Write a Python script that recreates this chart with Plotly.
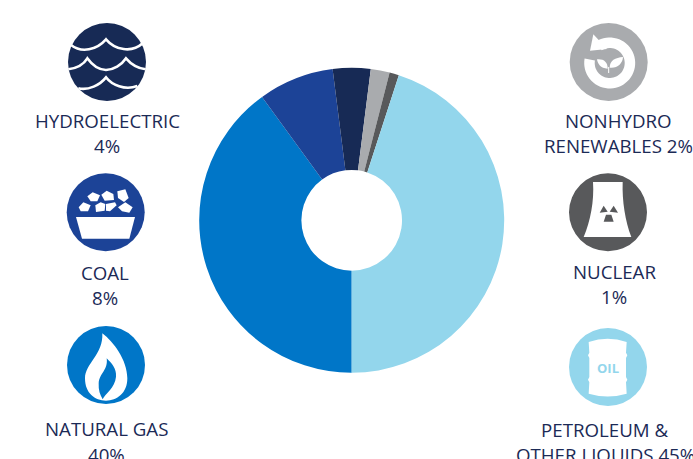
import math
import plotly.graph_objects as go

# ---- data ----
categories = ["Natural gas", "Coal", "Hydroelectric", "Nonhydro renewables", "Nuclear", "Petroleum & other liquids"]
values = [40, 8, 4, 2, 1, 45]
colors = ["#0076c8", "#1c4397", "#172a55", "#a9abae", "#58595b", "#93d6ec"]
label_lines = [
    ("HYDROELECTRIC", 107, 120), ("4%", 107, 145),
    ("COAL", 105, 272), ("8%", 105, 297),
    ("NATURAL GAS", 106, 428), ("40%", 106, 454),
    ("NONHYDRO", 618, 120), ("RENEWABLES 2%", 618, 145),
    ("NUCLEAR", 614, 271), ("1%", 614, 296),
    ("PETROLEUM &", 604, 429), ("OTHER LIQUIDS 45%", 605, 454),
]
TEXT = "#1b2a56"
W, H = 693, 459

# ---- icon helpers (page-pixel layout space, decoration only) ----
shapes = []

def circle(cx, cy, r, color):
    shapes.append(dict(type="circle", xref="x", yref="y", x0=cx - r, x1=cx + r, y0=cy - r, y1=cy + r,
                       fillcolor=color, line=dict(width=0), layer="above"))

def path(d, fill="white", stroke=None, sw=0):
    shapes.append(dict(type="path", xref="x", yref="y", path=d,
                       fillcolor=fill if fill else "rgba(0,0,0,0)",
                       line=dict(color=stroke or "rgba(0,0,0,0)", width=sw), layer="above"))

def tr(cmds, ox, oy, k=1 / 3):
    """cmds: list of (letter, flat coordinates in 3x crop space)."""
    out = []
    for c, pts in cmds:
        vals = []
        for i in range(0, len(pts), 2):
            vals.append(f"{ox + pts[i] * k:.2f},{oy + pts[i + 1] * k:.2f}")
        out.append(c + " ".join(vals))
    return " ".join(out)

def poly(points, ox, oy):
    flat = [(("M" if i == 0 else "L"), p) for i, p in enumerate(points)]
    return tr(flat, ox, oy) + " Z"

# Hydro
circle(107, 62, 39, "#172a55")
for w in [
    [("M", (213, 135)), ("C", (245, 160, 290, 150, 318, 118)), ("C", (345, 150, 395, 160, 428, 130))],
    [("M", (205, 208)), ("C", (225, 205, 250, 195, 262, 175)), ("C", (280, 200, 300, 210, 318, 210)),
     ("C", (340, 210, 365, 195, 378, 175)), ("C", (395, 195, 415, 205, 437, 208))],
    [("M", (235, 265)), ("C", (265, 272, 300, 255, 318, 232)), ("C", (335, 255, 375, 272, 412, 258))],
]:
    path(tr(w, 0, 0), fill=None, stroke="white", sw=2.6)

# Coal
circle(105.7, 212.3, 39, "#1c4397")
for lump in [
    [(82, 85), (98, 73), (120, 82), (112, 100), (92, 100)],
    [(124, 80), (140, 68), (160, 78), (162, 96), (134, 98)],
    [(172, 70), (196, 64), (206, 90), (192, 102), (174, 90)],
    [(56, 118), (70, 103), (92, 112), (84, 130), (62, 130)],
    [(106, 112), (122, 103), (136, 108), (134, 128), (108, 132)],
    [(138, 108), (165, 103), (170, 112), (150, 130), (138, 128)],
    [(174, 118), (196, 103), (218, 118), (208, 134), (186, 130)],
    [(48, 147), (225, 147), (208, 212), (66, 212)],
]:
    path(poly(lump, 60, 168))

# Natural gas
circle(106, 365, 39, "#0076c8")
path(tr([("M", (307, 310)), ("C", (340, 335, 382, 390, 382, 445)), ("C", (382, 490, 350, 512, 318, 512)),
         ("C", (285, 512, 255, 490, 255, 445)), ("C", (255, 400, 310, 375, 307, 310)), ("Z", ())], 0, 230))
path(tr([("M", (320, 385)), ("C", (335, 400, 350, 415, 348, 440)), ("C", (345, 475, 315, 490, 308, 508)),
         ("C", (300, 495, 295, 480, 296, 460)), ("C", (298, 430, 325, 420, 320, 385)), ("Z", ())], 0, 230),
     fill="#0076c8")

# Nonhydro renewables
cx, cy = 608.7, 62.0
circle(cx, cy, 39, "#a9abae")
ro, ri = 25.5, 15
angs = [math.radians(a) for a in range(-32, 284, 6)]
outer = [(cx + 1 + ro * math.sin(a), cy + 1 - ro * math.cos(a)) for a in angs]
inner = [(cx + 1 + ri * math.sin(a), cy + 1 - ri * math.cos(a)) for a in reversed(angs)]
ring = outer + inner
path("M" + " L".join(f"{x:.2f},{y:.2f}" for x, y in ring) + " Z")
path(poly([(94, 52), (84, 101), (135, 96)], 562, 17))
path(tr([("M", (137, 155)), ("C", (115, 155, 107, 140, 105, 127)), ("C", (125, 125, 137, 135, 137, 155)), ("Z", ())], 562, 17))
path(tr([("M", (143, 152)), ("C", (143, 130, 160, 122, 183, 120)), ("C", (182, 140, 165, 155, 143, 152)), ("Z", ())], 562, 17))
path(tr([("M", (140, 150)), ("L", (140, 168))], 562, 17), fill=None, stroke="white", sw=1)

# Nuclear
circle(608, 212.3, 39, "#58595b")
path(tr([("M", (93, 42)), ("L", (182, 42)), ("C", (180, 100, 190, 160, 208, 207)), ("L", (65, 207)),
         ("C", (85, 160, 97, 100, 93, 42)), ("Z", ())], 562, 168))
for wedge in [
    [(137, 131), (125, 113), (113, 134)],
    [(143, 131), (155, 113), (168, 134)],
    [(132, 140), (148, 140), (155, 161), (125, 161)],
]:
    path(poly(wedge, 562, 168), fill="#58595b")

# Oil
circle(608, 367, 39, "#93d6ec")
path(tr([("M", (80, 60)), ("Q", (137, 40, 194, 60)), ("L", (192, 92)), ("L", (196, 100)), ("L", (192, 108)),
         ("L", (192, 165)), ("L", (196, 173)), ("L", (192, 181)), ("L", (194, 215)), ("Q", (137, 232, 80, 215)),
         ("L", (82, 181)), ("L", (78, 173)), ("L", (82, 165)), ("L", (82, 108)), ("L", (78, 100)), ("L", (82, 92)),
         ("Z", ())], 562, 322))

# ---- figure ----
annotations = [dict(text=t, x=x, y=y, xref="x", yref="y", showarrow=False, xanchor="center", yanchor="middle",
                    font=dict(family="Open Sans", size=18.7, color=TEXT)) for t, x, y in label_lines]
annotations.append(dict(text="<b>OIL</b>", x=608, y=368, xref="x", yref="y", showarrow=False,
                        font=dict(family="Open Sans", size=13, color="#93d6ec")))

fig = go.Figure(go.Pie(
    labels=categories, values=values, sort=False, direction="clockwise", rotation=180, hole=0.33,
    marker=dict(colors=colors, line=dict(width=0)), textinfo="none", hoverinfo="label+percent",
    domain=dict(x=[(351.7 - 152.5) / W, (351.7 + 152.5) / W], y=[(H - 220.3 - 152.5) / H, (H - 220.3 + 152.5) / H]),
    showlegend=False,
))
fig.update_layout(
    width=W, height=H, margin=dict(l=0, r=0, t=0, b=0), paper_bgcolor="white", plot_bgcolor="rgba(0,0,0,0)",
    xaxis=dict(range=[0, W], visible=False, fixedrange=True),
    yaxis=dict(range=[H, 0], visible=False, fixedrange=True),
    shapes=shapes, annotations=annotations,
)
fig.write_html("out.html", config=dict(displayModeBar=False),
               post_script="document.body.style.margin='0';document.body.style.overflow='hidden';")
